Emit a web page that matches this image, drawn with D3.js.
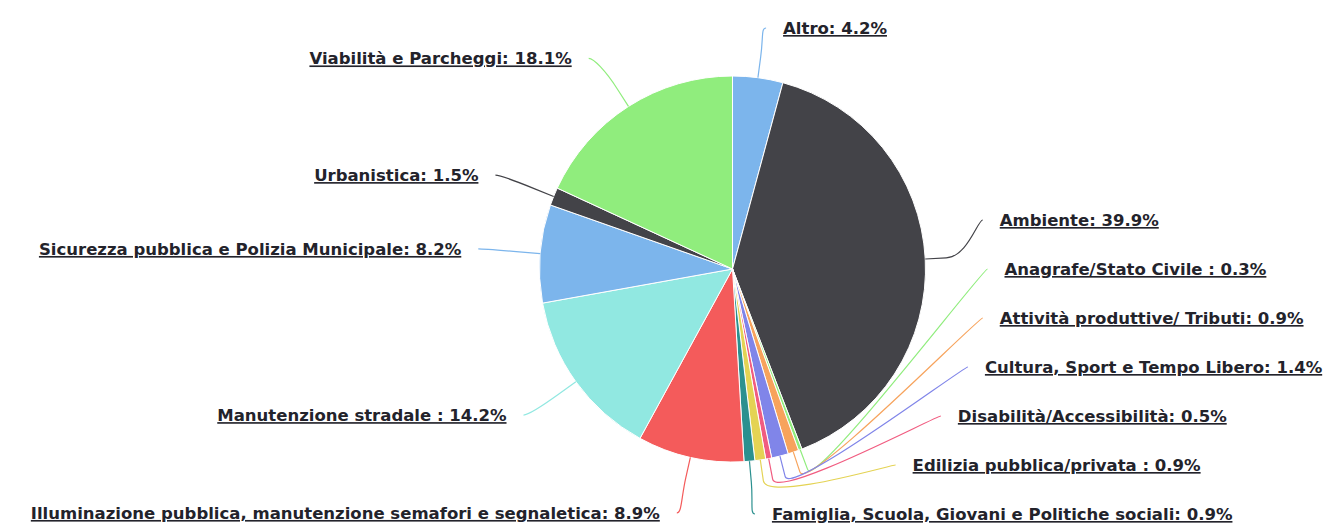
<!DOCTYPE html>
<html>
<head>
<meta charset="utf-8">
<script src="https://cdn.jsdelivr.net/npm/d3@7"></script>
<style>
  html, body { margin: 0; padding: 0; background: #ffffff; }
  svg { display: block; }
  .lbl { font-family: "DejaVu Sans", Verdana, sans-serif; font-weight: bold; font-size: 16.5px; fill: #23232b; text-decoration: underline; }
</style>
</head>
<body>
<svg id="chart" width="1336" height="528"></svg>
<script>
// ---- data ----
const categories = [
  "Altro",
  "Ambiente",
  "Anagrafe/Stato Civile ",
  "Attività produttive/ Tributi",
  "Cultura, Sport e Tempo Libero",
  "Disabilità/Accessibilità",
  "Edilizia pubblica/privata ",
  "Famiglia, Scuola, Giovani e Politiche sociali",
  "Illuminazione pubblica, manutenzione semafori e segnaletica",
  "Manutenzione stradale ",
  "Sicurezza pubblica e Polizia Municipale",
  "Urbanistica",
  "Viabilità e Parcheggi"
];
const percentages = [4.2, 39.9, 0.3, 0.9, 1.4, 0.5, 0.9, 0.9, 8.9, 14.2, 8.2, 1.5, 18.1];
const palette = ["#7cb5ec", "#434348", "#90ed7d", "#f7a35c", "#8085e9", "#f15c80", "#e4d354", "#2b908f", "#f45b5b", "#91e8e1"];

// ---- layout ----
const W = 1336, H = 528;
const cx = 732.5, cy = 269, r = 193;
const labelRY = 250, labelRX = 255, connOffset = 21, textGap = 17;
const minGap = 49, topBound = 28, bottomBound = 514;

const data = categories.map((c, i) => ({ name: c, value: percentages[i], color: palette[i % palette.length] }));

const svg = d3.select("#chart");
const g = svg.append("g");

const pie = d3.pie().sort(null).value(d => d.value).startAngle(0).endAngle(2 * Math.PI);
const arcs = pie(data);
const arc = d3.arc().innerRadius(0).outerRadius(r);

g.selectAll("path.slice")
  .data(arcs)
  .join("path")
  .attr("class", "slice")
  .attr("transform", `translate(${cx},${cy})`)
  .attr("d", arc)
  .attr("fill", d => d.data.color)
  .attr("stroke", "#ffffff")
  .attr("stroke-width", 1)
  .attr("stroke-linejoin", "round");

// label positions
const items = arcs.map(a => {
  const mid = (a.startAngle + a.endAngle) / 2;
  const s = Math.sin(mid), c = Math.cos(mid);
  return {
    a, mid, right: mid < Math.PI,
    natY: cy - labelRY * c,
    natX: cx + labelRX * s,
    touch: [cx + r * s, cy - r * c],
    brk: [cx + (r + connOffset) * s, cy - (r + connOffset) * c]
  };
});

function distribute(list) {
  list.sort((p, q) => p.natY - q.natY);
  list.forEach((p, i) => {
    let y = Math.max(topBound, Math.min(bottomBound, p.natY));
    if (i > 0) y = Math.max(y, list[i - 1].y + minGap);
    p.y = y;
  });
  for (let i = list.length - 1; i >= 0; i--) {
    let y = Math.min(list[i].y, bottomBound);
    if (i < list.length - 1) y = Math.min(y, list[i + 1].y - minGap);
    list[i].y = y;
  }
  list.forEach(p => {
    const dy = p.y - cy;
    const nearEdge = p.y < topBound + 6 || p.y > bottomBound - 6;
    if (nearEdge) p.x = p.natX;
    else {
      const dx = Math.sqrt(Math.max(0, labelRX * labelRX - dy * dy));
      p.x = p.right ? cx + dx : cx - dx;
    }
  });
}
distribute(items.filter(p => p.right));
distribute(items.filter(p => !p.right));

const fmt = d3.format(".1f");

g.selectAll("path.conn")
  .data(items)
  .join("path")
  .attr("class", "conn")
  .attr("fill", "none")
  .attr("stroke", d => d.a.data.color)
  .attr("stroke-width", 1.2)
  .attr("d", d => {
    const c1x = d.x + (d.right ? -5 : 5);
    const c2x = 2 * d.brk[0] - d.touch[0], c2y = 2 * d.brk[1] - d.touch[1];
    return `M${d.x},${d.y} C${c1x},${d.y} ${c2x},${c2y} ${d.brk[0]},${d.brk[1]} L${d.touch[0]},${d.touch[1]}`;
  });

g.selectAll("text.lbl")
  .data(items)
  .join("text")
  .attr("class", "lbl")
  .attr("x", d => d.right ? d.x + textGap : d.x - textGap)
  .attr("y", d => d.y + 6)
  .attr("text-anchor", d => d.right ? "start" : "end")
  .text(d => `${d.a.data.name}: ${fmt(d.a.data.value)}%`);
</script>
</body>
</html>
